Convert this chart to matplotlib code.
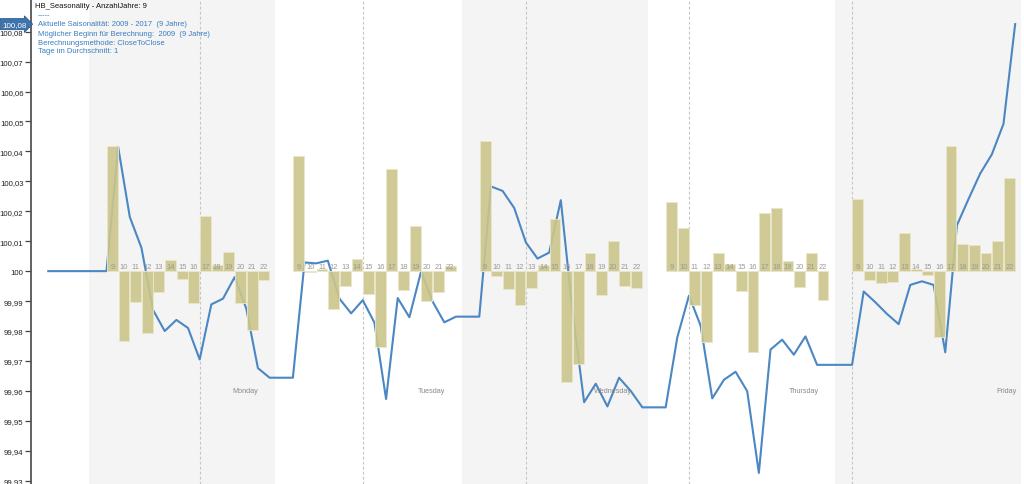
import matplotlib
matplotlib.use("Agg")
import matplotlib.pyplot as plt
from matplotlib.ticker import FuncFormatter, FixedLocator

plt.rcParams['font.family'] = ['Liberation Sans', 'DejaVu Sans']

# ---------------- data ----------------
days = ['Monday', 'Tuesday', 'Wednesday', 'Thursday', 'Friday']
hours = [9, 10, 11, 12, 13, 14, 15, 16, 17, 18, 19, 20, 21, 22]

bars_monday = [0.0417, -0.0235, -0.0104, -0.0206, -0.0070, 0.0036, -0.0025,
               -0.0107, 0.0184, 0.0022, 0.0065, -0.0108, -0.0195, -0.0029]
bars_tuesday = [0.0383, -0.0004, 0.0006, -0.0126, -0.0048, 0.0039, -0.0075,
                -0.0255, 0.0340, -0.0064, 0.0152, -0.0100, -0.0070, 0.0017]
bars_wednesday = [0.0435, -0.0017, -0.0058, -0.0112, -0.0056, 0.0019, 0.0173,
                  -0.0370, -0.0310, 0.0060, -0.0080, 0.0100, -0.0049, -0.0056]
bars_thursday = [0.0232, 0.0143, -0.0112, -0.0238, 0.0060, 0.0025, -0.0067,
                 -0.0270, 0.0194, 0.0212, 0.0034, -0.0052, 0.0059, -0.0095]
bars_friday = [0.0241, -0.0030, -0.0040, -0.0036, 0.0126, 0.0008, -0.0014,
               -0.0221, 0.0418, 0.0089, 0.0087, 0.0062, 0.0102, 0.0312]

# seasonal curve (value at the close of each hour)
line_start_hour = 3.5
line_start_value = 100.0
line_hours_full = [8.5, 9.5, 10.5, 11.5, 12.5, 13.5, 14.5, 15.5, 16.5, 17.5,
                   18.5, 19.5, 20.5, 21.5, 22.5]
line_hours_short = [8.5, 9.5, 10.5, 11.5, 12.5, 13.5, 14.5, 15.5, 16.5, 17.5,
                    18.5, 19.5, 20.5, 21.5]
line_monday = [100.0, 100.0415, 100.0181, 100.0078, 99.9870, 99.9800, 99.9837,
               99.9810, 99.9705, 99.9889, 99.9908, 99.9980, 99.9875, 99.9676, 99.9644]
line_tuesday = [99.9644, 100.0029, 100.0026, 100.0035, 99.9908, 99.9859, 99.9903,
                99.9828, 99.9573, 99.9910, 99.9846, 99.9998, 99.9898, 99.9829, 99.9848]
line_wednesday = [99.9848, 100.0283, 100.0268, 100.0211, 100.0096, 100.0042, 100.0062,
                  100.0237, 99.9867, 99.9562, 99.9624, 99.9548, 99.9644, 99.9600, 99.9545]
line_thursday = [99.9545, 99.9779, 99.9918, 99.9818, 99.9575, 99.9637, 99.9664,
                 99.9599, 99.9326, 99.9738, 99.9771, 99.9721, 99.9782, 99.9687]
line_friday = [99.9687, 99.9932, 99.9896, 99.9857, 99.9823, 99.9954, 99.9966,
               99.9954, 99.9729, 100.0153, 100.0241, 100.0326, 100.0390, 100.0492, 100.0825]

marker_hours = [16.5, 14.5, 12.5, 10.5, 8.5]
y_ticks = [99.93, 99.94, 99.95, 99.96, 99.97, 99.98, 99.99, 100.0,
           100.01, 100.02, 100.03, 100.04, 100.05, 100.06, 100.07, 100.08]

title = 'HB_Seasonality - AnzahlJahre: 9'
info_lines = ['-----',
              'Aktuelle Saisonalität: 2009 - 2017  (9 Jahre)',
              'Möglicher Beginn für Berechnung:  2009  (9 Jahre)',
              'Berechnungsmethode: CloseToClose',
              'Tage im Durchschnitt: 1']

bars_all = [bars_monday, bars_tuesday, bars_wednesday, bars_thursday, bars_friday]
lines_all = [line_monday, line_tuesday, line_wednesday, line_thursday, line_friday]
line_hours_all = [line_hours_full, line_hours_full, line_hours_full,
                  line_hours_short, line_hours_full]

# ---------------- figure ----------------
W, H = 1024, 485
fig = plt.figure(figsize=(W / 100, H / 100), dpi=100)
ax = fig.add_axes([31 / W, 0, (W - 31) / W, 1])
ax.set_xlim(2.02, 87.26)
ax.set_ylim(99.9289, 100.0909)

DAY = 16
BASE = 100.0

for d in range(len(days)):
    off = d * DAY
    if d % 2 == 0:
        ax.axvspan(off + 7, off + 23, color='#f4f4f4', zorder=0, lw=0)
    ax.axvline(off + marker_hours[d], color='#c4c4c4', lw=0.8,
               ls=(0, (2.5, 2)), zorder=1)

# line
xs = [line_start_hour]
ys = [line_start_value]
for d in range(len(days)):
    off = d * DAY
    xs += [off + h for h in line_hours_all[d]]
    ys += lines_all[d]
ax.plot(xs, ys, color='#4a87c3', lw=1.5, zorder=2, solid_joinstyle='round')

# bars + hour labels
for d in range(len(days)):
    off = d * DAY
    bx = [off + h for h in hours]
    ax.bar(bx, bars_all[d], bottom=BASE, width=0.93, color='#cbc68b',
           edgecolor='#e9e6c8', lw=0.7, alpha=0.9, zorder=3)
    for x, h in zip(bx, hours):
        ax.text(x, 100.0015, str(h), ha='center', va='center', fontsize=5.4,
                color='#999999', zorder=4)

# day labels
day_label_x = [20.39, 36.38, 51.98, 68.33, 85.80]
for name, x in zip(days, day_label_x):
    ax.text(x, 99.9600, name, ha='center', va='center', fontsize=5.2,
            color='#8a8a8a', zorder=4)

# axes styling
for s in ['top', 'right', 'bottom']:
    ax.spines[s].set_visible(False)
ax.spines['left'].set_color('#555555')
ax.spines['left'].set_linewidth(1.3)
ax.set_xticks([])
ax.yaxis.set_major_locator(FixedLocator(y_ticks))


def fmt(v, pos=None):
    v = round(v, 2)
    if abs(v - 100) < 1e-9:
        return '100'
    return f'{v:.2f}'.replace('.', ',')


ax.yaxis.set_major_formatter(FuncFormatter(fmt))
ax.tick_params(axis='y', direction='out', length=4, width=0.9, color='#444444',
               labelsize=5.6, labelcolor='#222222', pad=1.5)

# header texts
fig.text(35 / W, 1 - 7 / H, title, ha='left', va='center', fontsize=5.5,
         color='#111111')
info_y = [15.5, 25, 34.5, 43.3, 52]
for txt, yy in zip(info_lines, info_y):
    fig.text(38 / W, 1 - yy / H, txt, ha='left', va='center', fontsize=5.5,
             color='#3a7cc0')

# last value marker
last = line_friday[-1]
ax.text(-0.0045, last, fmt(last), transform=ax.get_yaxis_transform(),
        ha='right', va='center', fontsize=5.8, color='white', zorder=10,
        clip_on=False,
        bbox=dict(boxstyle='rarrow,pad=0.25', fc='#3e74ae', ec='#2c5a8c', lw=0.6))

fig.savefig('out.png', dpi=100)
